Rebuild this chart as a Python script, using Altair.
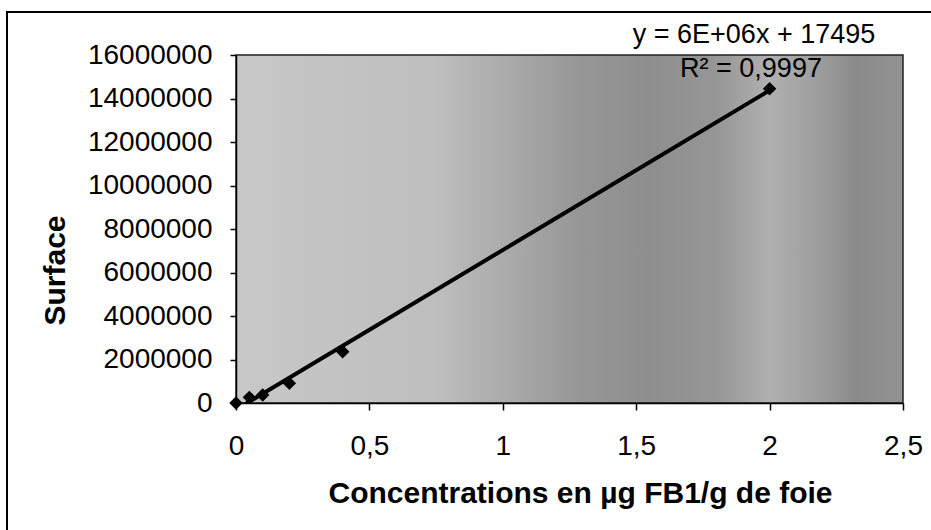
import altair as alt
import pandas as pd

# ---- data ----
conc = [0.0, 0.05, 0.1, 0.2, 0.4, 2.0]
surface = [0, 260000, 370000, 910000, 2360000, 14450000]

x_ticks = [0, 0.5, 1, 1.5, 2, 2.5]
x_labels = ["0", "0,5", "1", "1,5", "2", "2,5"]
y_ticks = [0, 2000000, 4000000, 6000000, 8000000, 10000000, 12000000, 14000000, 16000000]

eq_text = ["y = 6E+06x + 17495"]
r2_text = ["R² = 0,9997"]

x_title = "Concentrations en µg FB1/g de foie"
y_title = "Surface"

df = pd.DataFrame({"conc": conc, "surface": surface})

W, H = 667, 348
FONT = "Liberation Sans"

label_expr = " : ".join(
    f"datum.value == {v} ? '{l}'" for v, l in zip(x_ticks, x_labels)
) + " : ''"

xscale = alt.Scale(domain=[0, 2.5], nice=False, zero=True)
yscale = alt.Scale(domain=[0, 16000000], nice=False)

xaxis = alt.Axis(
    values=x_ticks, labelExpr=label_expr, title=x_title, grid=False,
    labelFont=FONT, labelFontSize=28, labelColor="black", labelPadding=22,
    labelFlush=False, tickSize=7, tickColor="black", domainColor="black",
    domainWidth=1.5, tickWidth=1.5,
    titleFont=FONT, titleFontSize=30, titleFontWeight="bold", titleColor="black",
    titleX=344, titleY=99, titleBaseline="alphabetic", titleAlign="center",
    zindex=2,
)
yaxis = alt.Axis(
    values=y_ticks, format="d", title=y_title, grid=False,
    labelFont=FONT, labelFontSize=28, labelColor="black", labelPadding=18,
    labelFlush=False, tickSize=6, tickColor="black", domainColor="black",
    domainWidth=1.5, tickWidth=1.5,
    titleFont=FONT, titleFontSize=30, titleFontWeight="bold", titleColor="black",
    titleX=-172, titleY=215, titleBaseline="alphabetic", titleAlign="center",
    titleAngle=270, zindex=2,
)

gradient = alt.Gradient(
    gradient="linear",
    x1=0, x2=1, y1=0, y2=0,
    stops=[
        alt.GradientStop(color="#c8c8c8", offset=0.0),
        alt.GradientStop(color="#bebebe", offset=0.3),
        alt.GradientStop(color="#a8a8a8", offset=0.42),
        alt.GradientStop(color="#969696", offset=0.52),
        alt.GradientStop(color="#8e8e8e", offset=0.62),
        alt.GradientStop(color="#969696", offset=0.72),
        alt.GradientStop(color="#b0b0b0", offset=0.8),
        alt.GradientStop(color="#9e9e9e", offset=0.87),
        alt.GradientStop(color="#8a8a8a", offset=0.93),
        alt.GradientStop(color="#929292", offset=1.0),
    ],
)

one = pd.DataFrame({"k": [0]})

bg = alt.Chart(one).mark_rect(color=gradient, stroke="#222222", strokeWidth=1.5).encode(
    x=alt.value(0), x2=alt.value(W), y=alt.value(0), y2=alt.value(H)
)

frame = alt.Chart(one).mark_rect(fillOpacity=0, stroke="black", strokeWidth=2).encode(
    x=alt.value(-229), x2=alt.value(740), y=alt.value(-43), y2=alt.value(520)
)

base = alt.Chart(df)

trend = base.transform_regression("conc", "surface", extent=[0, 2]).mark_line(
    color="black", strokeWidth=4, clip=True
).encode(
    x=alt.X("conc:Q", scale=xscale, axis=xaxis),
    y=alt.Y("surface:Q", scale=yscale, axis=yaxis),
)

points = base.mark_point(shape="diamond", filled=True, color="black", size=180, opacity=1).encode(
    x=alt.X("conc:Q", scale=xscale, axis=xaxis),
    y=alt.Y("surface:Q", scale=yscale, axis=yaxis),
)

eq = alt.Chart(pd.DataFrame({"t": eq_text})).mark_text(
    font=FONT, fontSize=27, color="black", align="center", baseline="alphabetic"
).encode(text="t:N", x=alt.value(518), y=alt.value(-12))

r2 = alt.Chart(pd.DataFrame({"t": r2_text})).mark_text(
    font=FONT, fontSize=27, color="black", align="center", baseline="alphabetic"
).encode(text="t:N", x=alt.value(515), y=alt.value(22))

chart = alt.layer(bg, frame, trend, points, eq, r2).properties(
    width=W, height=H,
    autosize=alt.AutoSizeParams(type="none"),
    padding={"left": 236, "top": 55, "right": 28, "bottom": 127},
    background="white",
).configure_view(stroke=None)

chart.save("out.html", embed_options={"renderer": "svg", "actions": False})
